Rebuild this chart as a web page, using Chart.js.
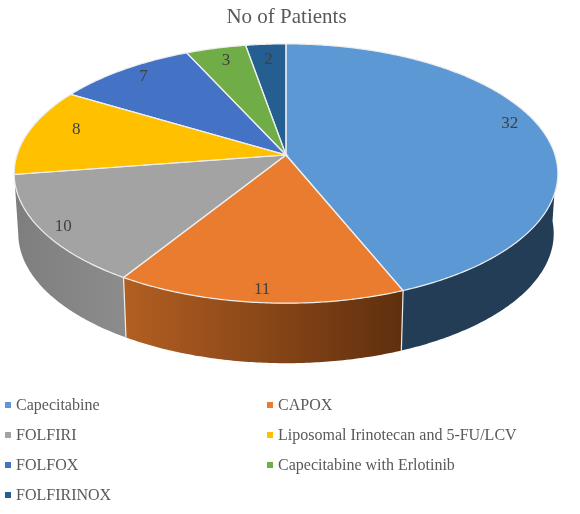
<!DOCTYPE html>
<html>
<head>
<meta charset="utf-8">
<title>No of Patients</title>
<script src="https://cdn.jsdelivr.net/npm/chart.js@4"></script>
<style>
  html, body { margin: 0; padding: 0; background: #fff; }
  #wrap { position: relative; width: 580px; height: 514px; overflow: hidden; }
  #legend { position: absolute; left: 0; top: 0; font: 16px "Liberation Serif", serif; color: #595959; }
  .item { position: absolute; white-space: nowrap; line-height: 18px; }
  .item i { position: absolute; left: -11px; top: 6px; width: 6px; height: 6px; }
</style>
</head>
<body>
<div id="wrap">
  <canvas id="chart" width="580" height="514"></canvas>
  <div id="legend"></div>
</div>
<script>
// Data
const categories = ['Capecitabine', 'CAPOX', 'FOLFIRI', 'Liposomal Irinotecan and 5-FU/LCV', 'FOLFOX', 'Capecitabine with Erlotinib', 'FOLFIRINOX'];
const patients = [32, 11, 10, 8, 7, 3, 2];
const faceColors = ['#5B98D4', '#EA7C30', '#A3A3A3', '#FFC000', '#4472C4', '#70AD47', '#255E91'];
// left and right shade of each side wall
const wallColors = [['#223D55', '#223D55'], ['#B35F22', '#5F2F0E'], ['#7E7E7E', '#8C8C8C'], ['#997300', '#997300'], ['#2F5597', '#2F5597'], ['#43682B', '#43682B'], ['#163A5A', '#163A5A']];

// Fake 3D view of the pie, tilted with a little perspective
const view = { cx: 286, cy: 155, rx: 269, ry: 127, persp: 0.143, depth: 60, shrink: 0.985 };
// how far each value label sits from its spot at 0.9 of the radius
const labelNudge = [[-8, -10], [0, 4], [-5, 4], [22, -4], [5, -1], [4, 3], [1, 5]];

function project(t, f) {
  const u = Math.sin(t) * f;
  const v = -Math.cos(t) * f;
  const w = 1 - view.persp * v;
  return { x: view.cx + view.rx * u / w, y: view.cy + view.ry * v / w };
}

// turn the library's arc angle into clockwise from 12 o'clock
function clock(angle) {
  return angle + Math.PI / 2;
}

function facePath(ctx, from, to) {
  ctx.beginPath();
  ctx.moveTo(view.cx, view.cy);
  for (let t = from; t < to; t += 0.01) {
    const p = project(t, 1);
    ctx.lineTo(p.x, p.y);
  }
  const last = project(to, 1);
  ctx.lineTo(last.x, last.y);
  ctx.closePath();
}

function wallPoint(t) {
  const p = project(t, 1);
  return { x: view.cx + (p.x - view.cx) * view.shrink, y: p.y + view.depth };
}

function drawWall(ctx, from, to, shades) {
  const a = Math.max(from, 1.62);
  const b = Math.min(to, 4.56);
  if (a >= b) return;
  const top = [];
  const bottom = [];
  for (let t = a; t < b; t += 0.01) {
    top.push(project(t, 1));
    bottom.push(wallPoint(t));
  }
  top.push(project(b, 1));
  bottom.push(wallPoint(b));
  ctx.beginPath();
  top.forEach((p, i) => i ? ctx.lineTo(p.x, p.y) : ctx.moveTo(p.x, p.y));
  bottom.reverse().forEach(p => ctx.lineTo(p.x, p.y));
  ctx.closePath();
  const xs = top.concat(bottom).map(p => p.x);
  const g = ctx.createLinearGradient(Math.min(...xs), 0, Math.max(...xs), 0);
  g.addColorStop(0, shades[0]);
  g.addColorStop(1, shades[1]);
  ctx.fillStyle = g;
  ctx.fill();
}

const pie3d = {
  id: 'pie3d',
  // the flat arcs are replaced by the tilted ones below
  beforeDatasetDraw() {
    return false;
  },
  afterDatasetsDraw(chart) {
    const ctx = chart.ctx;
    const arcs = chart.getDatasetMeta(0).data;
    ctx.save();
    arcs.forEach((arc, i) => drawWall(ctx, clock(arc.startAngle), clock(arc.endAngle), wallColors[i]));
    // seams between the front walls
    ctx.strokeStyle = '#EDEDED';
    ctx.lineWidth = 1.2;
    arcs.forEach(arc => {
      const t = clock(arc.startAngle);
      if (t > 1.62 && t < 4.56) {
        const p = project(t, 1);
        const q = wallPoint(t);
        ctx.beginPath();
        ctx.moveTo(p.x, p.y);
        ctx.lineTo(q.x, q.y);
        ctx.stroke();
      }
    });
    arcs.forEach((arc, i) => {
      facePath(ctx, clock(arc.startAngle), clock(arc.endAngle));
      ctx.fillStyle = faceColors[i];
      ctx.fill();
    });
    arcs.forEach(arc => {
      facePath(ctx, clock(arc.startAngle), clock(arc.endAngle));
      ctx.stroke();
    });
    // value labels
    ctx.font = '17px "Liberation Serif", serif';
    ctx.fillStyle = '#404040';
    ctx.textAlign = 'center';
    ctx.textBaseline = 'middle';
    arcs.forEach((arc, i) => {
      const p = project(clock((arc.startAngle + arc.endAngle) / 2), 0.9);
      ctx.fillText(String(patients[i]), p.x + labelNudge[i][0], p.y + labelNudge[i][1]);
    });
    ctx.restore();
  }
};

new Chart(document.getElementById('chart'), {
  type: 'pie',
  data: {
    labels: categories,
    datasets: [{ label: 'No of Patients', data: patients, backgroundColor: faceColors }]
  },
  options: {
    responsive: false,
    animation: false,
    layout: { padding: { right: 7 } },
    plugins: {
      legend: { display: false },
      tooltip: { enabled: false },
      title: {
        display: true,
        text: 'No of Patients',
        color: '#595959',
        font: { family: '"Liberation Serif", serif', size: 21, weight: 'normal' },
        padding: { top: 5, bottom: 0 }
      }
    }
  },
  plugins: [pie3d]
});

// Legend in two columns like the original
const legend = document.getElementById('legend');
categories.forEach((name, i) => {
  const row = Math.floor(i / 2);
  const item = document.createElement('div');
  item.className = 'item';
  item.style.left = (i % 2 ? 278 : 16) + 'px';
  item.style.top = (396 + row * 30) + 'px';
  const mark = document.createElement('i');
  mark.style.background = faceColors[i];
  item.appendChild(mark);
  item.appendChild(document.createTextNode(name));
  legend.appendChild(item);
});
</script>
</body>
</html>
